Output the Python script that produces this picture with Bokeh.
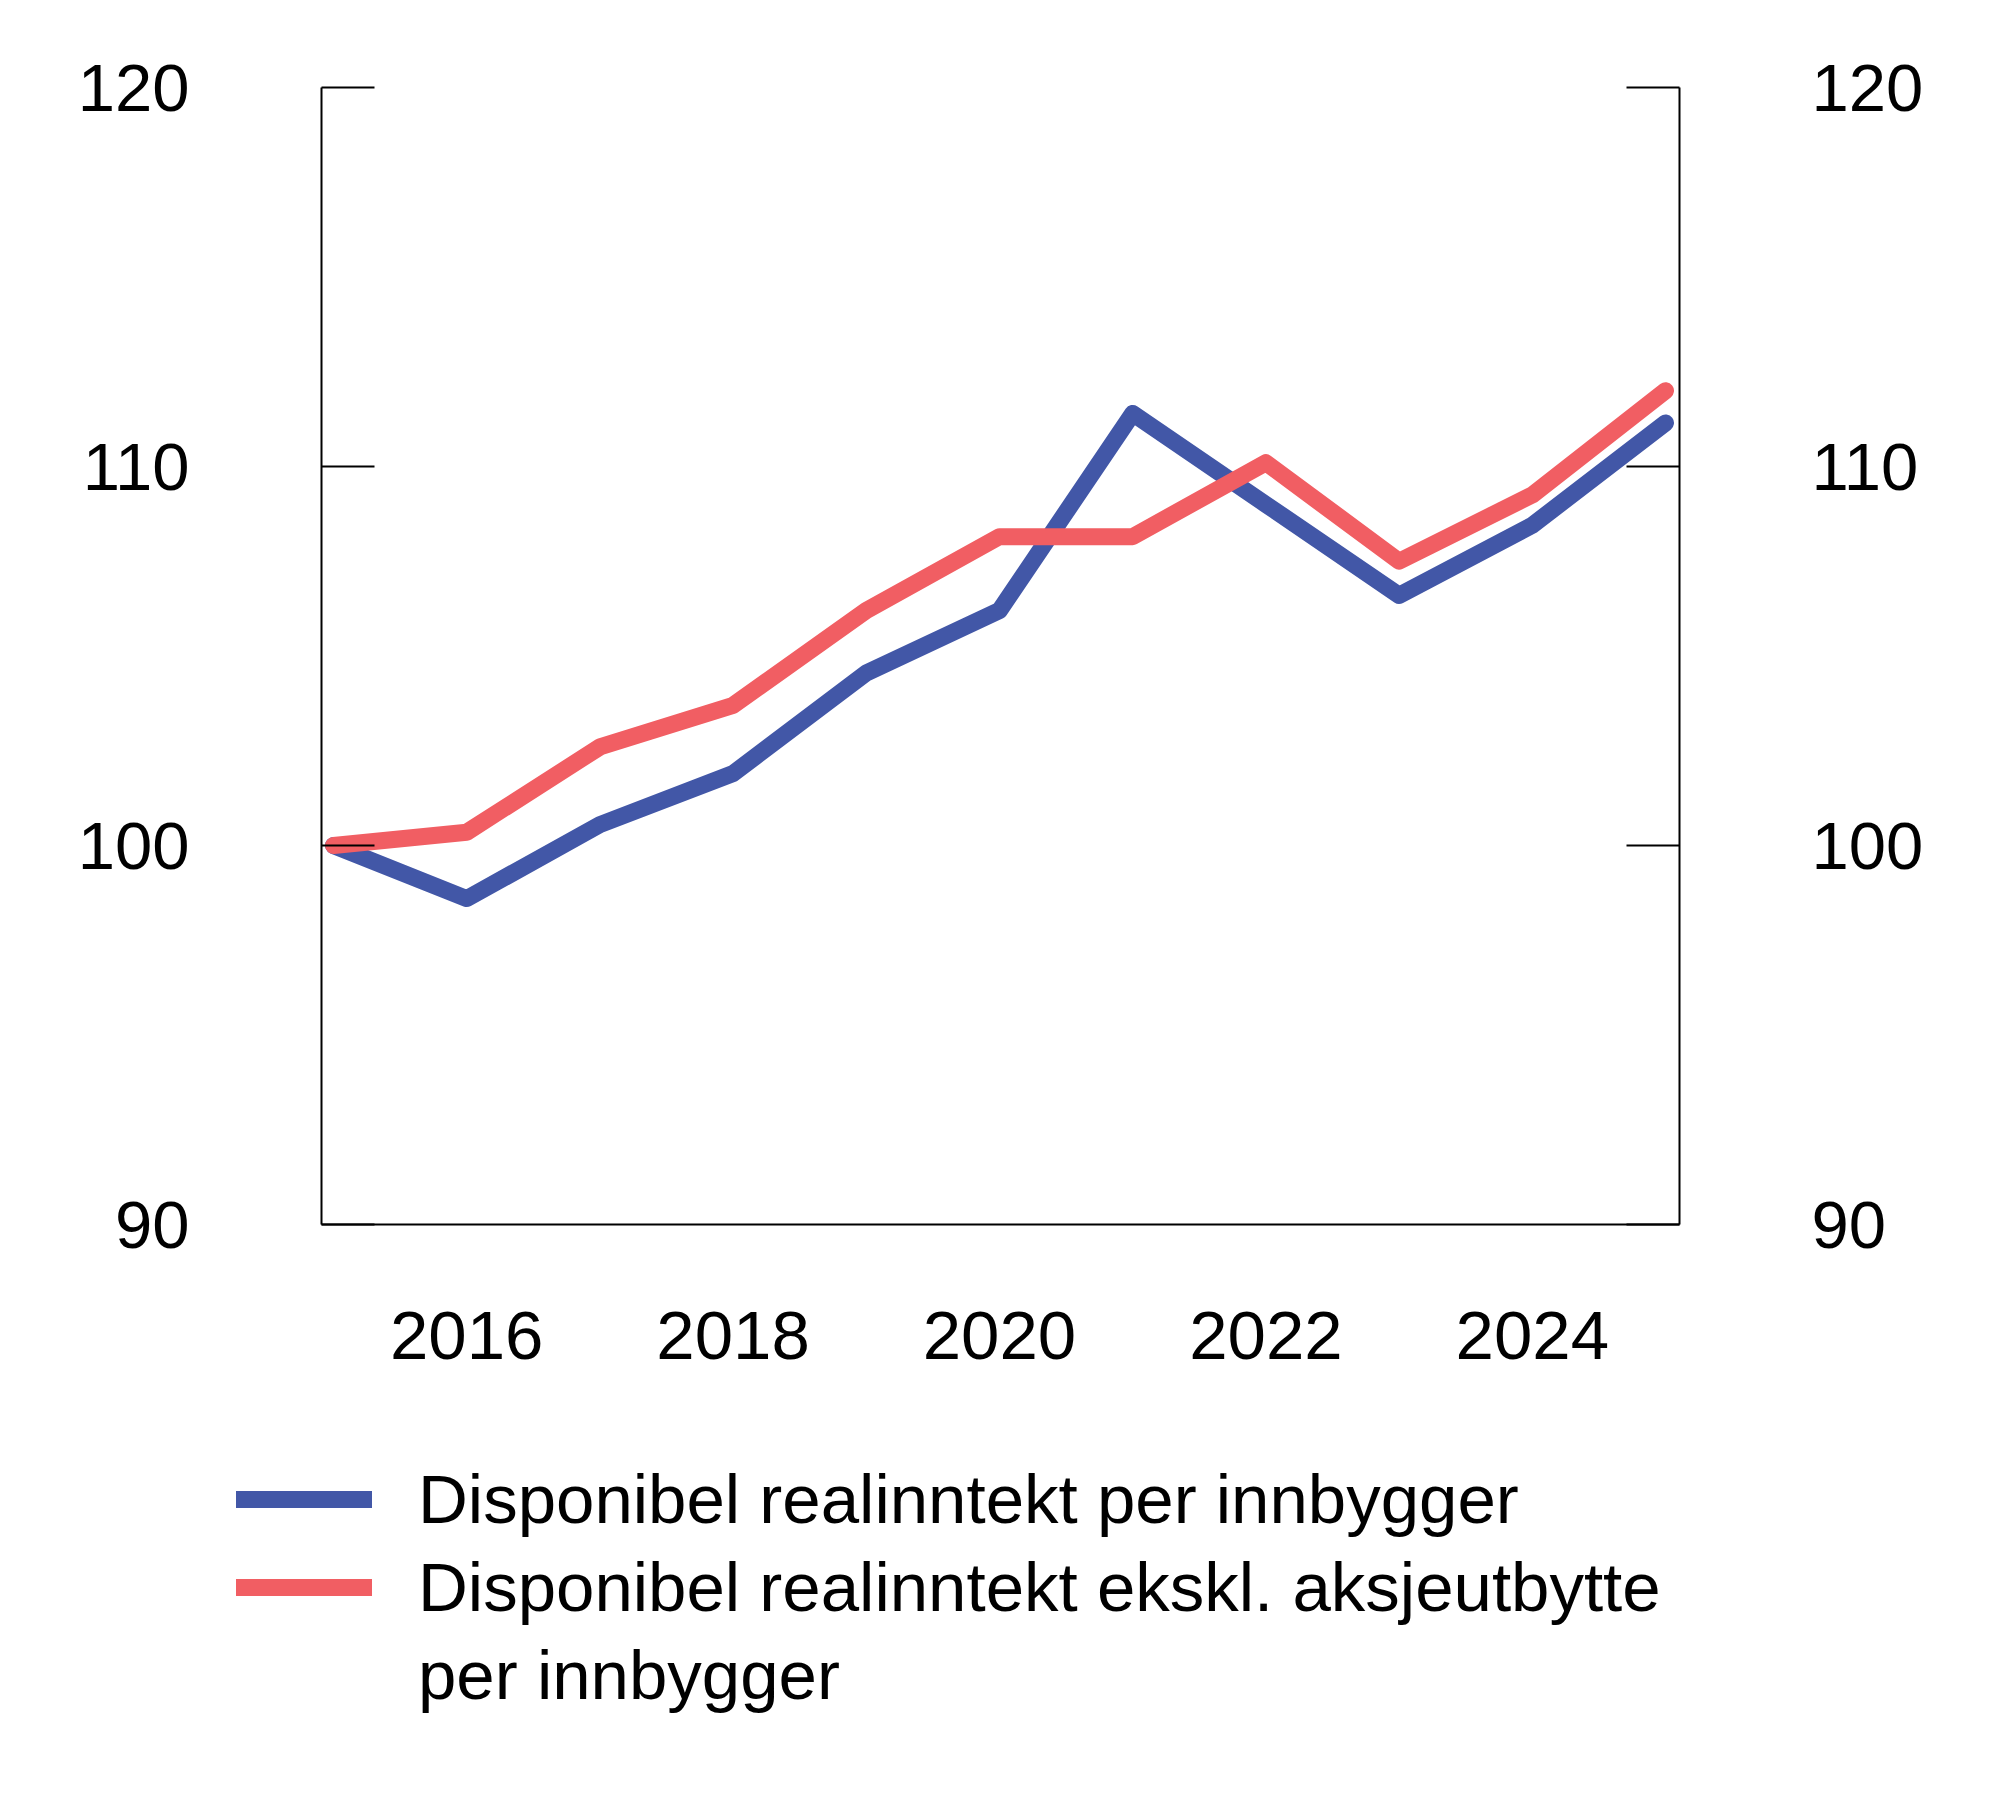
from bokeh.plotting import figure
from bokeh.models import Range1d, LinearAxis, FixedTicker, Legend, LegendItem, ColumnDataSource
from bokeh.embed import file_html
from bokeh.resources import INLINE

years = [2015, 2016, 2017, 2018, 2019, 2020, 2021, 2022, 2023, 2024, 2025]
disponibel = [100.0, 98.6, 100.55, 101.9, 104.55, 106.2, 111.4, 109.0, 106.6, 108.45, 111.15]
ekskl_utbytte = [100.0, 100.35, 102.6, 103.7, 106.2, 108.15, 108.15, 110.1, 107.5, 109.25, 112.0]
x_ticks = [2016, 2018, 2020, 2022, 2024]
y_ticks = [90, 100, 110, 120]
labels = ["Disponibel realinntekt per innbygger",
          "Disponibel realinntekt ekskl. aksjeutbytte",
          "per innbygger"]

X_LO, X_HI = 2014.91, 2025.105   # axis extent
Y_LO, Y_HI = 90, 120

BLUE = "#4257A7"
RED = "#F15E63"
FONT = "Liberation Sans"
FS_Y = "67px"
FS_X = "69px"
FS_L = "69px"
LW = 17

# frame covers the whole canvas; axes are pinned at the chart box via fixed_location
p = figure(width=2000, height=1816, output_backend="svg", toolbar_location=None,
           x_range=Range1d(2012.5, 2027.515), y_range=Range1d(74.38, 122.296),
           min_border_left=0, min_border_right=0, min_border_top=0, min_border_bottom=0)
p.outline_line_color = None
p.xgrid.visible = False
p.ygrid.visible = False
p.background_fill_color = "white"
p.border_fill_color = "white"

src = ColumnDataSource(dict(year=years, a=disponibel, b=ekskl_utbytte))
rb = p.line("year", "a", source=src, line_color=BLUE, line_width=LW, line_cap="round", line_join="round")
rr = p.line("year", "b", source=src, line_color=RED, line_width=LW, line_cap="round", line_join="round")
# transparent helper for the wrapped second line of the legend label
rn = p.line("year", "a", source=src, line_color=BLUE, line_alpha=0, line_width=LW)

xa = p.xaxis[0]
xa.fixed_location = Y_LO
xa.bounds = (X_LO, X_HI)
xa.ticker = FixedTicker(ticks=x_ticks)
xa.major_tick_in = 0
xa.major_tick_out = 0
xa.minor_tick_line_color = None
xa.axis_line_color = "black"
xa.axis_line_width = 2
xa.major_label_standoff = 87
xa.major_label_text_font = FONT
xa.major_label_text_font_size = FS_X
xa.major_label_text_color = "black"


def style_y(ax, loc):
    ax.fixed_location = loc
    ax.bounds = (Y_LO, Y_HI)
    ax.ticker = FixedTicker(ticks=y_ticks)
    ax.major_tick_in = 53
    ax.major_tick_out = 0
    ax.major_tick_line_width = 2
    ax.major_tick_line_color = "black"
    ax.minor_tick_line_color = None
    ax.axis_line_color = "black"
    ax.axis_line_width = 2
    ax.major_label_standoff = 132
    ax.major_label_text_font = FONT
    ax.major_label_text_font_size = FS_Y
    ax.major_label_text_color = "black"


style_y(p.yaxis[0], X_LO)
ra = LinearAxis()
style_y(ra, X_HI)
p.add_layout(ra, "right")

legend = Legend(items=[LegendItem(label=labels[0], renderers=[rb]),
                       LegendItem(label=labels[1], renderers=[rr]),
                       LegendItem(label=labels[2], renderers=[rn])],
                location=(236, 97))
legend.label_text_font = FONT
legend.label_text_font_size = FS_L
legend.label_text_color = "black"
legend.label_height = 88
legend.glyph_height = 88
legend.glyph_width = 136
legend.label_standoff = 46
legend.spacing = 0
legend.padding = 0
legend.margin = 0
legend.border_line_alpha = 0
legend.background_fill_alpha = 0
p.add_layout(legend, "center")

open("out.html", "w").write(file_html(p, INLINE))
